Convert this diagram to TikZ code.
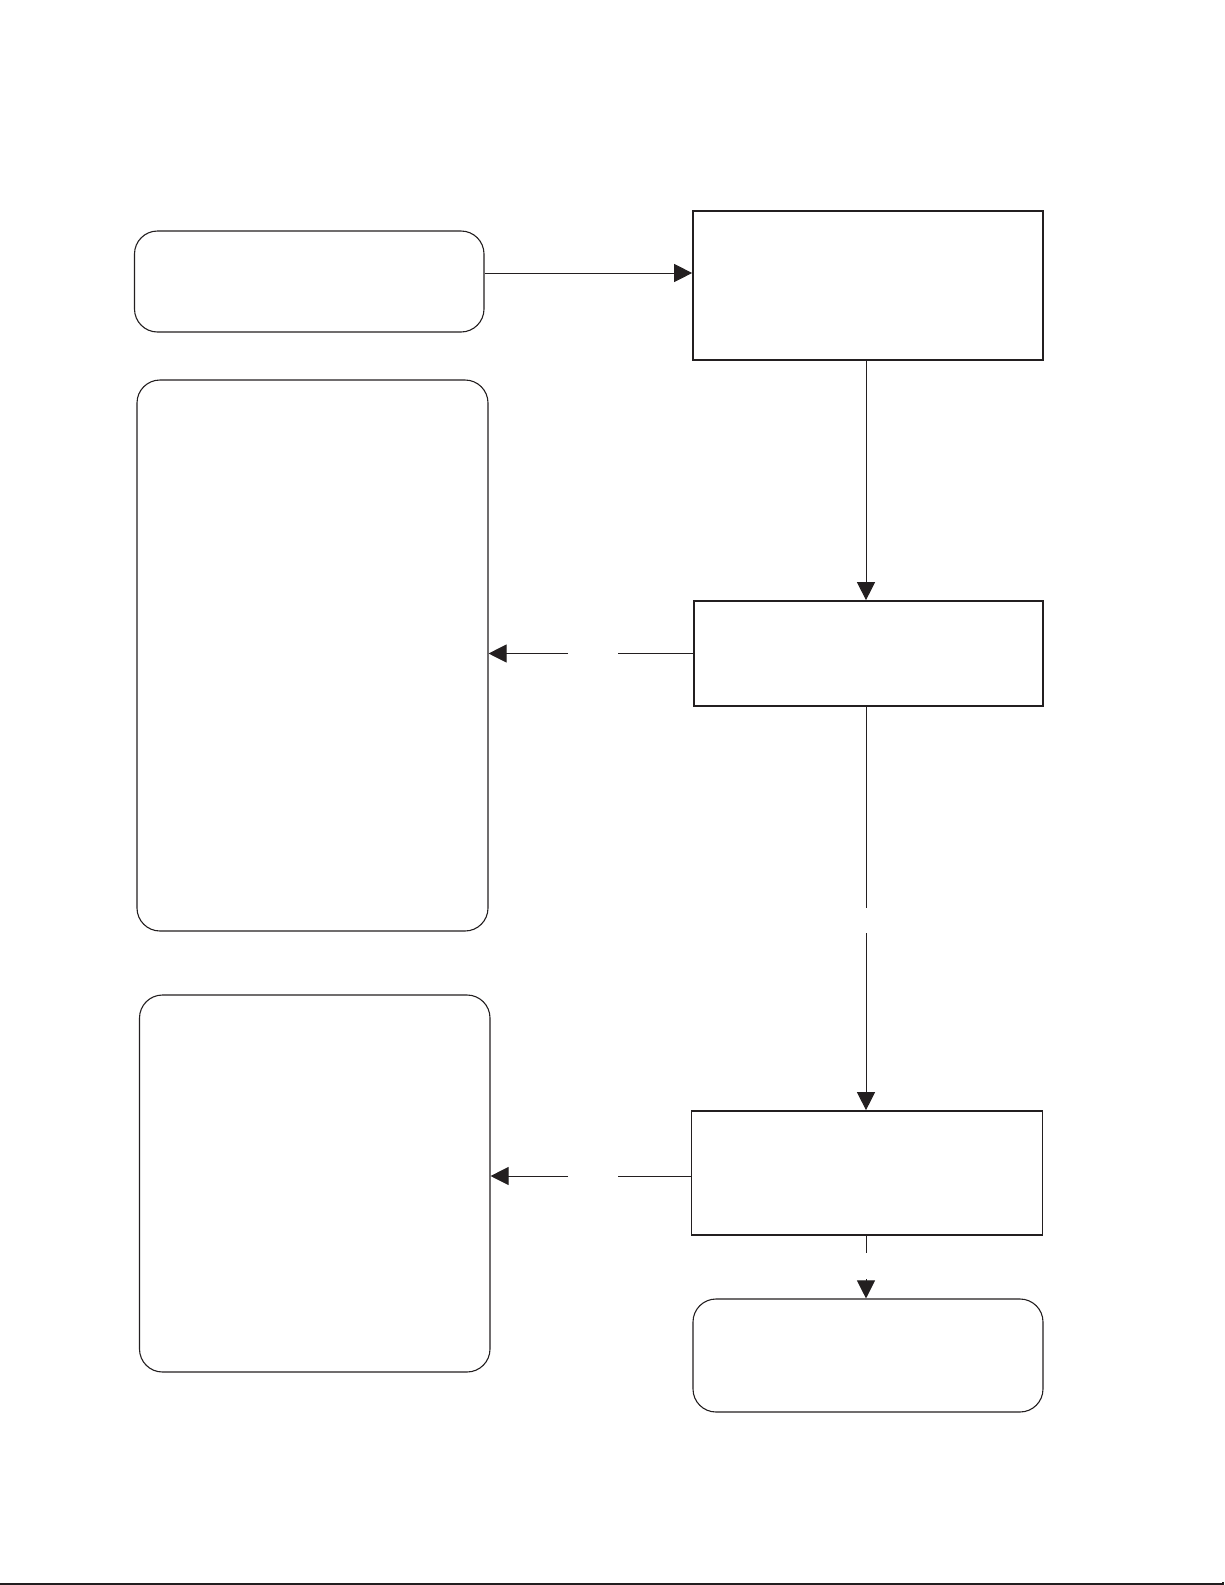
\documentclass[tikz,border=0pt]{standalone}
\usepackage{amsmath}
\usepackage{amssymb}
\usepackage{tikz}
\usetikzlibrary{arrows.meta}

\definecolor{ink}{HTML}{231F20}

\begin{document}
\begin{tikzpicture}[x=1pt,y=-1pt,
  roundbox/.style={draw=ink,rounded corners=23pt,line width=1.1pt,inner sep=0pt},
  sqbox/.style={draw=ink,line width=1.7pt,inner sep=0pt},
  flow/.style={draw=ink,line width=1pt},
  tip/.style={flow,-{Triangle[length=18pt,width=18pt]}}]
\useasboundingbox (0,0) rectangle (1225,1585);
% left column
\node [roundbox,minimum width=349.5pt,minimum height=101pt] (in) at (309.25,281.5) {};
\node [roundbox,minimum width=351pt,minimum height=551pt] (list1) at (312.5,655.5) {};
\node [roundbox,minimum width=350.5pt,minimum height=377pt] (list2) at (314.75,1183.5) {};
% right column
\node [sqbox,minimum width=350pt,minimum height=149pt] (step1) at (868,285.5) {};
\node [sqbox,minimum width=349pt,minimum height=105pt] (step2) at (868.5,653.5) {};
\node [sqbox,minimum width=351pt,minimum height=124pt] (step3) at (867,1173) {};
\node [roundbox,minimum width=350pt,minimum height=113pt] (out) at (868,1355.5) {};
% gaps in the connectors
\coordinate (gapa1) at (618,653.5);
\coordinate (gapa2) at (568,653.5);
\coordinate (gapb1) at (866,908);
\coordinate (gapb2) at (866,933);
\coordinate (gapc1) at (866,1253);
\coordinate (gapc2) at (866,1279);
\coordinate (gapd1) at (618,1176);
\coordinate (gapd2) at (568,1176);

\draw [tip] ([yshift=8.5pt]in.east) -- ([yshift=8.5pt]in.east -| step1.west);
\draw [tip] (step1.south -| gapb1) -- (step2.north -| gapb1);
\draw [flow] (step2.west) -- (gapa1);
\draw [tip] (gapa2) -- (gapa2 -| list1.east);
\draw [flow] (step2.south -| gapb1) -- (gapb1);
\draw [tip] (gapb2) -- (step3.north -| gapb2);
\draw [flow] (step3.west |- gapd1) -- (gapd1);
\draw [tip] (gapd2) -- (gapd2 -| list2.east);
\draw [flow] (step3.south -| gapc1) -- (gapc1);
\draw [tip] (gapc2) -- (out.north -| gapc2);
% page rule
\draw [ink,line width=1.6pt] (0,1584) -- (1223,1584) -- (1223,1582);
\end{tikzpicture}
\end{document}
